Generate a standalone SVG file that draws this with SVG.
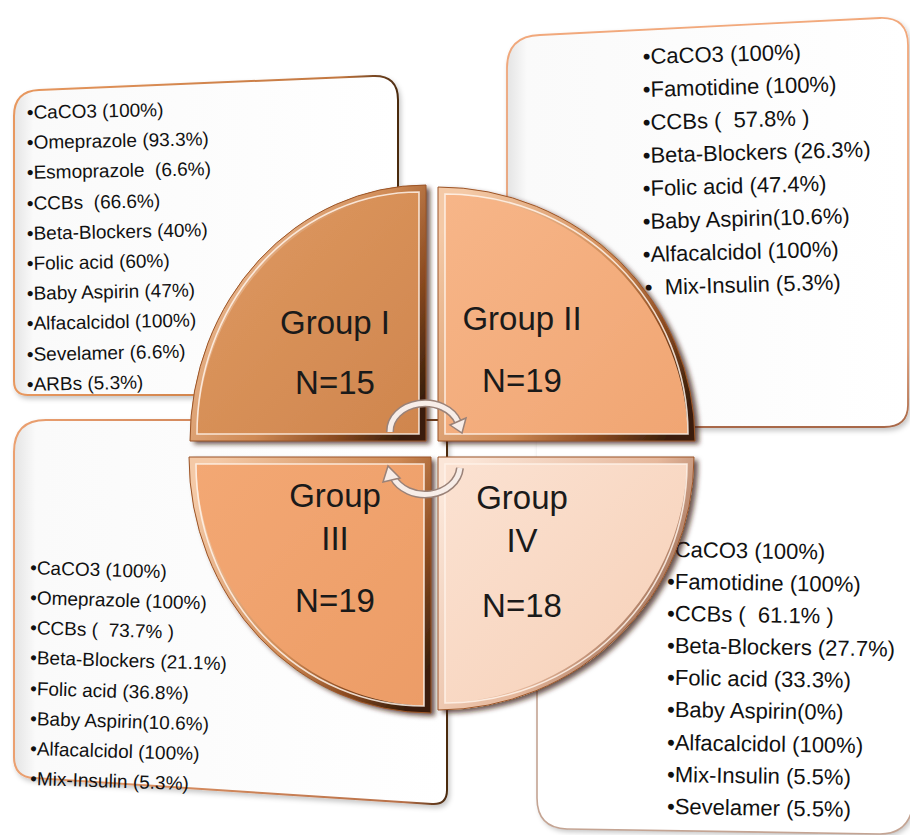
<svg xmlns="http://www.w3.org/2000/svg" width="910" height="835" viewBox="0 0 910 835">
<style>
.bt{font-family:"Liberation Sans",Arial,sans-serif;fill:#111111}
.s1{font-size:19px}
.s2{font-size:22px}
.gl{font-family:"Liberation Sans",Arial,sans-serif;font-size:33px;fill:#1a1a1a;text-anchor:middle}
.hl{fill:none;stroke:#fff3ea;stroke-width:1.6;opacity:.85}
.ol{fill:none;stroke:#9b5528;stroke-width:1}
.arr-o{fill:none;stroke:#9a8278;stroke-width:8}
.arr-i{fill:none;stroke:#f7ede8;stroke-width:5}
</style>
<defs>
<filter id="ps" x="-10%" y="-10%" width="130%" height="130%"><feDropShadow dx="4" dy="3" stdDeviation="2.5" flood-color="#3a1d08" flood-opacity="0.75"/></filter>
<filter id="bs" x="-5%" y="-5%" width="115%" height="115%"><feDropShadow dx="2" dy="3" stdDeviation="2.5" flood-color="#000" flood-opacity="0.22"/></filter>
<linearGradient id="bf" x1="0" y1="0" x2="1" y2="0"><stop offset="0" stop-color="#e4e4e4"/><stop offset="0.05" stop-color="#fafafa"/><stop offset="1" stop-color="#ffffff"/></linearGradient>
<linearGradient id="b1s" x1="0" y1="0" x2="1" y2="0"><stop offset="0" stop-color="#e8985f"/><stop offset="0.85" stop-color="#c27740"/><stop offset="1" stop-color="#4a2a10"/></linearGradient>
<linearGradient id="b2s" x1="0" y1="0" x2="0" y2="1"><stop offset="0" stop-color="#f2a97c"/><stop offset="0.8" stop-color="#e09a72"/><stop offset="1" stop-color="#a86848"/></linearGradient>
<linearGradient id="b3s" x1="0" y1="0" x2="1" y2="0"><stop offset="0" stop-color="#eba070"/><stop offset="0.9" stop-color="#b87048"/><stop offset="1" stop-color="#4a2a10"/></linearGradient>
<linearGradient id="g1" x1="0" y1="0" x2="1" y2="1"><stop offset="0" stop-color="#df9a62"/><stop offset="1" stop-color="#cf854d"/></linearGradient>
<linearGradient id="g2" x1="0" y1="0" x2="1" y2="1"><stop offset="0" stop-color="#f7b689"/><stop offset="1" stop-color="#f0a572"/></linearGradient>
<linearGradient id="g3" x1="0" y1="0" x2="1" y2="1"><stop offset="0" stop-color="#f3a874"/><stop offset="1" stop-color="#ec9c66"/></linearGradient>
<linearGradient id="g4" x1="0" y1="0" x2="1" y2="1"><stop offset="0" stop-color="#fbe2d2"/><stop offset="1" stop-color="#f6cfb6"/></linearGradient>
<linearGradient id="rim" x1="0" y1="0.2" x2="1" y2="0.8"><stop offset="0" stop-color="#f4c9a6"/><stop offset="0.55" stop-color="#cf8a55"/><stop offset="0.8" stop-color="#8a4a20"/><stop offset="1" stop-color="#3a1f0b"/></linearGradient>
<linearGradient id="rimL" x1="0" y1="0.2" x2="1" y2="0.8"><stop offset="0" stop-color="#fbe6d8"/><stop offset="0.55" stop-color="#e6b89c"/><stop offset="0.85" stop-color="#9a6a52"/><stop offset="1" stop-color="#4a2c1c"/></linearGradient>
<clipPath id="c1"><path d="M426,441 L190,441 A236,256 0 0 1 426,185 Z"/></clipPath>
<clipPath id="c2"><path d="M438,441 L438,187 A257,254 0 0 1 695,441 Z"/></clipPath>
<clipPath id="c3"><path d="M431,457 L431,713 A242,256 0 0 1 189,457 Z"/></clipPath>
<clipPath id="c4"><path d="M438,457 L694,457 A256,253 0 0 1 438,710 Z"/></clipPath>
</defs>
<rect width="910" height="835" fill="#ffffff"/>

<g id="box4">
<path d="M537,400 L537,798 Q537,828 567,829 L880,834 Q906,834 912,810 L912,400 Z" fill="#ffffff" filter="url(#bs)"/>
<path d="M537,680 L537,798 Q537,828 567,829 L880,834 Q906,834 912,810" fill="none" stroke="#c4a493" stroke-width="1.6"/>
</g>
<g id="box3">
<path d="M14,452 Q14,420 46,420 L447,420 L447,790 Q447,805 432,804 L34,778 Q14,777 14,757 Z" fill="url(#bf)" stroke="url(#b3s)" stroke-width="2" filter="url(#bs)"/>
</g>
<g id="box1">
<path d="M14,116 Q14,91 39,90 L373,76 Q398,75 398,100 L398,395 L28,395 Q14,395 14,381 Z" fill="url(#bf)" stroke="url(#b1s)" stroke-width="2" filter="url(#bs)"/>
</g>
<g id="box2">
<path d="M507,68 Q507,36 540,35 L880,18 Q908,17 908,45 L908,405 Q908,427 884,427 L507,427 Z" fill="url(#bf)" stroke="url(#b2s)" stroke-width="1.8" filter="url(#bs)"/>
</g>

<g id="list1" class="bt s1">
<text x="27" y="119" transform="rotate(-1.2 27 119)">•CaCO3 (100%)</text>
<text x="27" y="149" transform="rotate(-1.2 27 149)">•Omeprazole (93.3%)</text>
<text x="27" y="179" transform="rotate(-1.2 27 179)">•Esmoprazole &#160;(6.6%)</text>
<text x="27" y="210" transform="rotate(-1.2 27 210)">•CCBs &#160;(66.6%)</text>
<text x="27" y="240" transform="rotate(-1.2 27 240)">•Beta-Blockers (40%)</text>
<text x="27" y="270" transform="rotate(-1.2 27 270)">•Folic acid (60%)</text>
<text x="27" y="300" transform="rotate(-1.2 27 300)">•Baby Aspirin (47%)</text>
<text x="27" y="330" transform="rotate(-1.2 27 330)">•Alfacalcidol (100%)</text>
<text x="27" y="361" transform="rotate(-1.2 27 361)">•Sevelamer (6.6%)</text>
<text x="27" y="391" transform="rotate(-1.2 27 391)">•ARBs (5.3%)</text>
</g>
<g id="list2" class="bt s2">
<text x="643" y="64" transform="rotate(-1.6 643 64)">•CaCO3 (100%)</text>
<text x="643" y="97" transform="rotate(-1.6 643 97)">•Famotidine (100%)</text>
<text x="643" y="130" transform="rotate(-1.6 643 130)">•CCBs ( &#160;57.8% )</text>
<text x="643" y="163" transform="rotate(-1.6 643 163)">•Beta-Blockers (26.3%)</text>
<text x="643" y="196" transform="rotate(-1.6 643 196)">•Folic acid (47.4%)</text>
<text x="643" y="229" transform="rotate(-1.6 643 229)">•Baby Aspirin(10.6%)</text>
<text x="643" y="262" transform="rotate(-1.6 643 262)">•Alfacalcidol (100%)</text>
<text x="645" y="295" transform="rotate(-1.6 645 295)">• &#160;Mix-Insulin (5.3%)</text>
</g>
<g id="list3" class="bt s1">
<text x="30" y="574" transform="rotate(1.8 30 574)">•CaCO3 (100%)</text>
<text x="30" y="604" transform="rotate(1.8 30 604)">•Omeprazole (100%)</text>
<text x="30" y="634" transform="rotate(1.8 30 634)">•CCBs ( &#160;73.7% )</text>
<text x="30" y="664" transform="rotate(1.8 30 664)">•Beta-Blockers (21.1%)</text>
<text x="30" y="695" transform="rotate(1.8 30 695)">•Folic acid (36.8%)</text>
<text x="30" y="725" transform="rotate(1.8 30 725)">•Baby Aspirin(10.6%)</text>
<text x="30" y="755" transform="rotate(1.8 30 755)">•Alfacalcidol (100%)</text>
<text x="30" y="785" transform="rotate(1.8 30 785)">•Mix-Insulin (5.3%)</text>
</g>
<g id="list4" class="bt s2">
<text x="667" y="557" transform="rotate(0.9 667 557)">•CaCO3 (100%)</text>
<text x="667" y="589" transform="rotate(0.9 667 589)">•Famotidine (100%)</text>
<text x="667" y="621" transform="rotate(0.9 667 621)">•CCBs ( &#160;61.1% )</text>
<text x="667" y="653" transform="rotate(0.9 667 653)">•Beta-Blockers (27.7%)</text>
<text x="667" y="685" transform="rotate(0.9 667 685)">•Folic acid (33.3%)</text>
<text x="667" y="717" transform="rotate(0.9 667 717)">•Baby Aspirin(0%)</text>
<text x="667" y="750" transform="rotate(0.9 667 750)">•Alfacalcidol (100%)</text>
<text x="667" y="782" transform="rotate(0.9 667 782)">•Mix-Insulin (5.5%)</text>
<text x="667" y="814" transform="rotate(0.9 667 814)">•Sevelamer (5.5%)</text>
</g>

<g id="group1">
<g filter="url(#ps)">
<path d="M426,441 L190,441 A236,256 0 0 1 426,185 Z" fill="url(#g1)"/>
<path d="M426,441 L190,441 A236,256 0 0 1 426,185 Z" fill="none" stroke="url(#rim)" stroke-width="14" clip-path="url(#c1)"/>
</g>
<path class="hl" d="M419,434 L197,434 A222,242 0 0 1 419,192 Z"/>
<path class="ol" d="M426,441 L190,441 A236,256 0 0 1 426,185 Z"/>
<text class="gl" x="335" y="334">Group I</text>
<text class="gl" x="335" y="394">N=15</text>
</g>
<g id="group2">
<g filter="url(#ps)">
<path d="M438,441 L438,187 A257,254 0 0 1 695,441 Z" fill="url(#g2)"/>
<path d="M438,441 L438,187 A257,254 0 0 1 695,441 Z" fill="none" stroke="url(#rim)" stroke-width="14" clip-path="url(#c2)"/>
</g>
<path class="hl" d="M445,434 L445,194 A243,240 0 0 1 688,434 Z"/>
<path class="ol" d="M438,441 L438,187 A257,254 0 0 1 695,441 Z"/>
<text class="gl" x="522" y="330">Group II</text>
<text class="gl" x="522" y="392">N=19</text>
</g>
<g id="group3">
<g filter="url(#ps)">
<path d="M431,457 L431,713 A242,256 0 0 1 189,457 Z" fill="url(#g3)"/>
<path d="M431,457 L431,713 A242,256 0 0 1 189,457 Z" fill="none" stroke="url(#rim)" stroke-width="14" clip-path="url(#c3)"/>
</g>
<path class="hl" d="M424,464 L424,706 A228,242 0 0 1 196,464 Z"/>
<path class="ol" d="M431,457 L431,713 A242,256 0 0 1 189,457 Z"/>
<text class="gl" x="335" y="507">Group</text>
<text class="gl" x="335" y="550">III</text>
<text class="gl" x="335" y="612">N=19</text>
</g>
<g id="group4">
<g filter="url(#ps)">
<path d="M438,457 L694,457 A256,253 0 0 1 438,710 Z" fill="url(#g4)"/>
<path d="M438,457 L694,457 A256,253 0 0 1 438,710 Z" fill="none" stroke="url(#rimL)" stroke-width="14" clip-path="url(#c4)"/>
</g>
<path class="hl" d="M445,464 L687,464 A242,239 0 0 1 445,703 Z"/>
<path class="ol" d="M438,457 L694,457 A256,253 0 0 1 438,710 Z" stroke="#c09078"/>
<text class="gl" x="522" y="509">Group</text>
<text class="gl" x="522" y="552">IV</text>
<text class="gl" x="522" y="617">N=18</text>
</g>

<g id="connectors">
<path class="arr-o" d="M390,432 A35,28 0 0 1 458,422"/>
<path class="arr-i" d="M390,432 A35,28 0 0 1 458,422"/>
<polygon points="466,418 450,425 462,433" fill="#f7ede8" stroke="#9a8278" stroke-width="1.5"/>
<path class="arr-o" d="M460,468 A35,29 0 0 1 393,477"/>
<path class="arr-i" d="M460,468 A35,29 0 0 1 393,477"/>
<polygon points="383,482 400,478 388,466" fill="#f7ede8" stroke="#9a8278" stroke-width="1.5"/>
</g>
</svg>
